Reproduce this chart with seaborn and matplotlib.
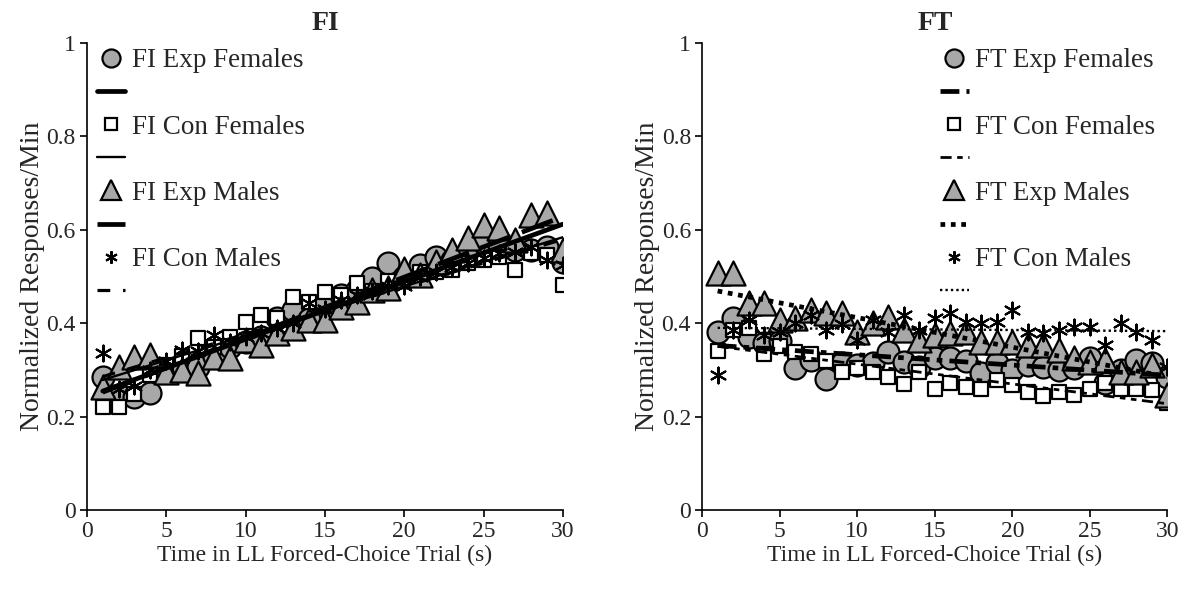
import numpy as np
import pandas as pd
import matplotlib
matplotlib.use("Agg")
import matplotlib.pyplot as plt
import seaborn as sns
from matplotlib.lines import Line2D

sns.set_theme(style="white")
plt.rcParams['font.family'] = ['Liberation Serif', 'DejaVu Serif']

trials = list(range(1, 31))

fi_exp_females = [0.285, 0.246, 0.242, 0.25, 0.30, 0.31, 0.306, 0.33, 0.35, 0.36,
                  0.37, 0.411, 0.428, 0.41, 0.443, 0.461, 0.471, 0.497, 0.529, 0.50,
                  0.525, 0.542, 0.535, 0.553, 0.572, 0.568, 0.557, 0.557, 0.564, 0.531]
fi_con_females = [0.221, 0.221, 0.249, 0.29, 0.31, 0.33, 0.369, 0.35, 0.371, 0.403,
                  0.418, 0.411, 0.456, 0.446, 0.467, 0.46, 0.486, 0.47, 0.49, 0.49,
                  0.51, 0.51, 0.514, 0.53, 0.536, 0.542, 0.514, 0.55, 0.546, 0.482]
fi_exp_males = [0.264, 0.306, 0.328, 0.332, 0.296, 0.30, 0.294, 0.328, 0.326, 0.364,
                0.354, 0.379, 0.39, 0.407, 0.407, 0.435, 0.446, 0.471, 0.476, 0.516,
                0.504, 0.531, 0.557, 0.583, 0.61, 0.604, 0.578, 0.632, 0.636, 0.557]
fi_con_males = [0.336, 0.26, 0.265, 0.30, 0.32, 0.343, 0.34, 0.375, 0.36, 0.37,
                0.38, 0.39, 0.40, 0.443, 0.43, 0.45, 0.46, 0.47, 0.48, 0.48,
                0.50, 0.51, 0.52, 0.53, 0.54, 0.55, 0.553, 0.564, 0.536, 0.525]

ft_exp_females = [0.381, 0.411, 0.371, 0.358, 0.362, 0.304, 0.321, 0.281, 0.315, 0.311,
                  0.315, 0.339, 0.317, 0.306, 0.326, 0.326, 0.319, 0.294, 0.315, 0.300,
                  0.311, 0.306, 0.300, 0.305, 0.326, 0.272, 0.300, 0.321, 0.315, 0.285]
ft_con_females = [0.34, 0.386, 0.39, 0.334, 0.351, 0.339, 0.334, 0.319, 0.296, 0.305,
                  0.296, 0.285, 0.27, 0.296, 0.259, 0.272, 0.264, 0.259, 0.279, 0.268,
                  0.253, 0.244, 0.253, 0.246, 0.259, 0.272, 0.259, 0.259, 0.257, 0.229]
ft_exp_males = [0.508, 0.508, 0.443, 0.443, 0.407, 0.411, 0.428, 0.422, 0.422, 0.381,
                0.40, 0.414, 0.386, 0.364, 0.375, 0.379, 0.381, 0.36, 0.36, 0.36,
                0.354, 0.354, 0.343, 0.326, 0.317, 0.321, 0.296, 0.296, 0.311, 0.246]
ft_con_males = [0.289, 0.386, 0.407, 0.375, 0.381, 0.40, 0.418, 0.386, 0.399, 0.364,
                0.407, 0.381, 0.418, 0.386, 0.411, 0.422, 0.403, 0.40, 0.403, 0.428,
                0.381, 0.379, 0.386, 0.392, 0.392, 0.354, 0.40, 0.381, 0.364, 0.306]

fi_labels = ["FI Exp Females", "FI Con Females", "FI Exp Males", "FI Con Males"]
ft_labels = ["FT Exp Females", "FT Con Females", "FT Exp Males", "FT Con Males"]
x_ticks = [0, 5, 10, 15, 20, 25, 30]
y_ticks = [0, 0.2, 0.4, 0.6, 0.8, 1]
y_ticklabels = ["0", "0.2", "0.4", "0.6", "0.8", "1"]

GRAY = '#a8a8a8'
ASTER = (6, 2, 0)
marker_styles = [
    dict(marker='o', s=250, color=GRAY, edgecolor='black', linewidth=1.6),
    dict(marker='s', s=95, color='white', edgecolor='black', linewidth=1.6),
    dict(marker='^', s=300, color=GRAY, edgecolor='black', linewidth=1.6),
    dict(marker=ASTER, s=130, color='black', edgecolor='black', linewidth=1.5),
]
legend_sizes = [13, 8, 15, 9]
fi_lines = [dict(lw=3.4, ls='-'), dict(lw=1.7, ls='-'),
            dict(lw=3.4, ls=(0, (7, 2.5))), dict(lw=2.3, ls=(0, (4, 4)))]
ft_lines = [dict(lw=3.4, ls=(0, (4, 1.5, 1.2, 1.5))), dict(lw=2.0, ls=(0, (4, 2, 2, 2, 2, 2))),
            dict(lw=3.4, ls=(0, (1, 1.2))), dict(lw=1.7, ls=(0, (1, 1.3)))]

fig = plt.figure(figsize=(11.9, 5.89), dpi=100)
ax1 = fig.add_axes([0.073, 0.134, 0.400, 0.793])
ax2 = fig.add_axes([0.590, 0.134, 0.391, 0.793])


def draw(ax, series, labels, lines, title, bbox):
    handles = []
    for vals, lab, ms, lk, lsz in zip(series, labels, marker_styles, lines, legend_sizes):
        df = pd.DataFrame({"x": trials, "y": vals})
        sns.scatterplot(data=df, x="x", y="y", ax=ax, legend=False, zorder=3, **ms)
        sns.regplot(data=df, x="x", y="y", ax=ax, scatter=False, ci=None,
                    line_kws=dict(color='black', linewidth=lk['lw'], linestyle=lk['ls'], zorder=4))
        handles.append(Line2D([], [], marker=ms['marker'], linestyle='none', markersize=lsz,
                              markerfacecolor=ms['color'], markeredgecolor='black',
                              markeredgewidth=ms['linewidth'], color='black'))
        handles.append(Line2D([], [], color='black', linewidth=lk['lw'], linestyle=lk['ls']))
    leg_labels = []
    for lab in labels:
        leg_labels += [lab, " "]
    ax.legend(handles, leg_labels, loc='upper left', bbox_to_anchor=bbox, frameon=False,
              fontsize=19.5, handlelength=1.05, handletextpad=0.25, labelspacing=0.3,
              borderaxespad=0.0, borderpad=0.2)
    ax.set_xlim(0, 30)
    ax.set_ylim(0, 1)
    ax.set_xticks(x_ticks)
    ax.set_yticks(y_ticks)
    ax.set_yticklabels(y_ticklabels)
    ax.set_xlabel("Time in LL Forced-Choice Trial (s)", fontsize=17, labelpad=2)
    ax.set_ylabel("Normalized Responses/Min", fontsize=20, labelpad=1)
    ax.set_title(title, fontsize=20, fontweight='bold', pad=9)
    for s in ['top', 'right']:
        ax.spines[s].set_visible(False)
    for s in ['left', 'bottom']:
        ax.spines[s].set_color('black')
        ax.spines[s].set_linewidth(1.2)
    ax.tick_params(axis='both', direction='out', length=5, width=1.2, color='black',
                   labelsize=17, left=True, bottom=True, pad=3)
    ax.set_facecolor('white')


draw(ax1, [fi_exp_females, fi_con_females, fi_exp_males, fi_con_males], fi_labels, fi_lines,
     "FI", (0.01, 1.0))
draw(ax2, [ft_exp_females, ft_con_females, ft_exp_males, ft_con_males], ft_labels, ft_lines,
     "FT", (0.5, 1.0))

fig.savefig("out.png", dpi=100, facecolor='white')
